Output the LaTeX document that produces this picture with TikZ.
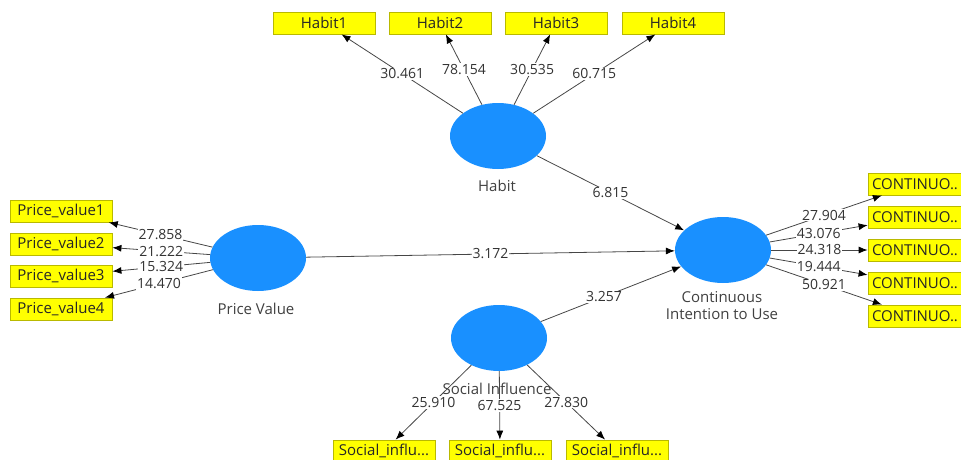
\documentclass[tikz,border=0pt]{standalone}
\usepackage{fontspec}
\setmainfont{Open Sans}
\usetikzlibrary{arrows.meta,shapes.geometric}
\definecolor{kreis}{RGB}{25,144,255}
\definecolor{gelb}{RGB}{255,255,0}
\definecolor{rand}{RGB}{185,185,0}
\definecolor{linie}{RGB}{70,70,70}
\tikzset{
	lv/.style={ellipse,fill=kreis,minimum width=96,minimum height=66,inner sep=0},
	ind/.style={rectangle,fill=gelb,draw=rand,line width=0.8,minimum width=102,minimum height=22,inner sep=0,font=\fontsize{15}{16}\selectfont,text=black!85},
	pfeil/.style={draw=linie,line width=0.8,-{Latex[length=9,width=7,color=black]}},
	wert/.style={fill=white,inner sep=1,font=\fontsize{14}{15}\selectfont,text=black!80},
	lvname/.style={font=\fontsize{15}{17}\selectfont,text=black!75,align=center}
}
\begin{document}
\begin{tikzpicture}[x=1pt,y=-1pt]
\useasboundingbox (0,0) rectangle (961,460);

%Latente Variablen
\node[lv] (habit) at (498,136) {};
\node[lv] (price) at (258,258) {};
\node[lv] (social) at (499,338) {};
\node[lv] (ciu) at (723,250) {};

\node[lvname] (habitname) at (497,186) {Habit};
\node[lvname] (pricename) at (256,309) {Price Value};
\node[lvname] (socialname) at (497,389) {Social Influence};
\node[lvname] (ciuname) at (722,306) {Continuous\\Intention to Use};

%Habit
\foreach \n/\x/\w in
{
1/324/30.461,
2/440/78.154,
3/556/30.535,
4/673/60.715
}
{
	\node[ind] (h\n) at (\x,23) {Habit\n};
	\draw[pfeil] (habit) -- node[wert] {\w} (h\n);
}

%Price Value
\foreach \n/\y/\w in
{
1/211/27.858,
2/244/21.222,
3/276/15.324,
4/309/14.470
}
{
	\node[ind] (p\n) at (61,\y) {Price\_value\n};
	\draw[pfeil] (price) -- node[wert] {\w} (p\n);
}

%Social Influence
\foreach \n/\x/\w in
{
1/384/25.910,
2/500/67.525,
3/617/27.830
}
{
	\node[ind] (s\n) at (\x,451) {Social\_influ...};
	\draw[pfeil] (social) -- node[wert] {\w} (s\n);
}

%Continuous Intention to Use
\foreach \n/\y/\w in
{
1/184/27.904,
2/217/43.076,
3/250/24.318,
4/283/19.444,
5/316/50.921
}
{
	\node[ind,minimum width=94] (c\n) at (915,\y) {CONTINUO..};
	\draw[pfeil] (ciu) -- node[wert] {\w} (c\n);
}

%Pfade
\draw[pfeil] (habit) -- node[wert] {6.815} (ciu);
\draw[pfeil] (price) -- node[wert] {3.172} (ciu);
\draw[pfeil] (social) -- node[wert,pos=0.45] {3.257} (ciu);

\end{tikzpicture}
\end{document}
